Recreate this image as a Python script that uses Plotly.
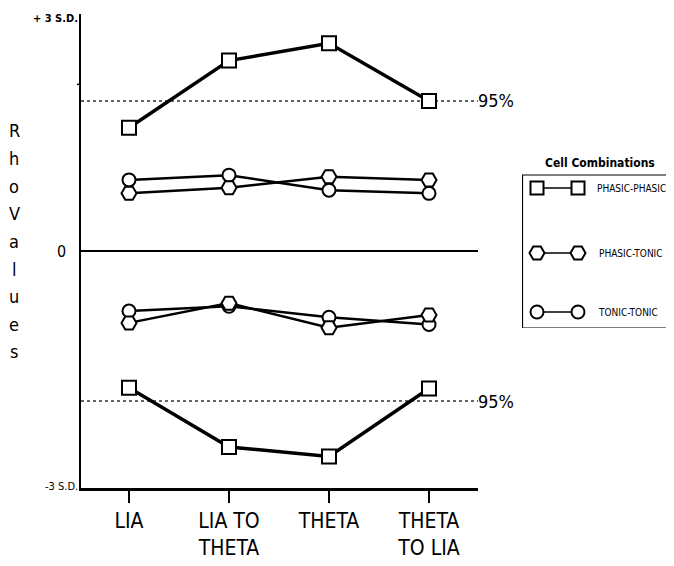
import plotly.graph_objects as go

# ---------------- data ----------------
categories = ["LIA", "LIA TO<br>THETA", "THETA", "THETA<br>TO LIA"]
x_idx = [0, 1, 2, 3]

phasic_phasic_pos = [1.56, 2.41, 2.63, 1.90]
phasic_phasic_neg = [-1.73, -2.48, -2.60, -1.74]
phasic_tonic_pos = [0.73, 0.80, 0.94, 0.90]
phasic_tonic_neg = [-0.91, -0.66, -0.97, -0.81]
tonic_tonic_pos = [0.90, 0.96, 0.77, 0.73]
tonic_tonic_neg = [-0.76, -0.70, -0.84, -0.93]

ci95 = 1.90
y_ticks = [3, 0, -3]
y_tick_labels = ["+ 3 S.D.", "0", "-3 S.D."]
legend_names = ["PHASIC-PHASIC", "PHASIC-TONIC", "TONIC-TONIC"]

FONT = "Liberation Sans Narrow, DejaVu Sans Condensed, Arial Narrow, sans-serif"

OFF = 8  # browser body margin
W, H = 674 - OFF, 566 - OFF
ML, MR, MT, MB = 81 - OFF, 0, 14 - OFF, 566 - 488
plot_w = 397
pw = W - ML - MR
ph = H - MT - MB

def px_x(page_x):
    return (page_x - OFF - ML) / pw

def px_y(page_y):
    return (H - MB - (page_y - OFF)) / ph

fig = go.Figure()

def add_series(y, symbol, size, lw):
    fig.add_trace(go.Scatter(
        x=x_idx, y=y, mode="lines+markers",
        line=dict(color="black", width=lw),
        marker=dict(symbol=symbol, size=size, color="white",
                    line=dict(color="black", width=2)),
        showlegend=False, cliponaxis=False,
    ))

add_series(tonic_tonic_pos, "circle", 13, 2.5)
add_series(phasic_tonic_pos, "hexagon2", 15, 2.5)
add_series(tonic_tonic_neg, "circle", 13, 2.5)
add_series(phasic_tonic_neg, "hexagon2", 15, 2.5)
add_series(phasic_phasic_pos, "square", 14, 3.5)
add_series(phasic_phasic_neg, "square", 14, 3.5)

# legend samples on a small helper axis (page-pixel coordinates)
leg_x0, leg_x1 = 522, 674
leg_top, leg_bot = 175, 328
leg_rows = [188, 253, 312]
leg_syms = ["square", "hexagon2", "circle"]
leg_sizes = [13, 15, 13]
for yy, sym, sz in zip(leg_rows, leg_syms, leg_sizes):
    fig.add_trace(go.Scatter(
        x=[537, 578], y=[yy, yy], mode="lines+markers", xaxis="x2", yaxis="y2",
        line=dict(color="black", width=1.5),
        marker=dict(symbol=sym, size=sz, color="white", line=dict(color="black", width=2)),
        showlegend=False, cliponaxis=False, hoverinfo="skip",
    ))

shapes = []
for v in (ci95, -ci95):
    shapes.append(dict(type="line", xref="x domain", yref="y", x0=0, x1=1, y0=v, y1=v,
                       line=dict(color="#333", width=1.5, dash="dot"), layer="below"))
shapes.append(dict(type="line", xref="paper", yref="y", x0=-4 / pw, x1=0, y0=2.11, y1=2.11,
                   line=dict(color="black", width=1.5)))
shapes.append(dict(type="rect", xref="x2", yref="y2", x0=leg_x0 + 0.5, x1=leg_x1 + 5,
                   y0=leg_top, y1=leg_bot, line=dict(color="black", width=1.2)))

annotations = []
annotations.append(dict(text="<b>" + y_tick_labels[0] + "</b>", xref="paper", yref="y", x=0, y=y_ticks[0],
                        xanchor="right", yanchor="middle", xshift=-1, yshift=-4, showarrow=False,
                        font=dict(family=FONT, size=11, color="black")))
annotations.append(dict(text=y_tick_labels[1], xref="paper", yref="y", x=0, y=y_ticks[1],
                        xanchor="right", yanchor="middle", xshift=-13, showarrow=False,
                        font=dict(family=FONT, size=16, color="black")))
annotations.append(dict(text=y_tick_labels[2], xref="paper", yref="y", x=0, y=y_ticks[2],
                        xanchor="right", yanchor="middle", xshift=-1, yshift=2, showarrow=False,
                        font=dict(family=FONT, size=11, color="black")))
for v in (ci95, -ci95):
    annotations.append(dict(text="95%", xref="x domain", yref="y", x=1, y=v,
                            xanchor="left", yanchor="middle", xshift=-2, showarrow=False,
                            font=dict(family=FONT, size=18, color="black")))
letters = [c for c in "Rho Values" if c != " "]
y0_px, step = 131, 27.6
for i, c in enumerate(letters):
    annotations.append(dict(text=c, xref="paper", yref="paper",
                            x=px_x(14), y=px_y(y0_px + i * step),
                            xanchor="center", yanchor="middle", showarrow=False,
                            font=dict(family=FONT, size=18, color="black")))
annotations.append(dict(text="<b>Cell Combinations</b>", xref="x2", yref="y2", x=600, y=163,
                        xanchor="center", yanchor="middle", showarrow=False,
                        font=dict(family=FONT, size=12, color="black")))
for yy, name, xx in zip(leg_rows, legend_names, [595, 597, 596]):
    annotations.append(dict(text=name, xref="x2", yref="y2", x=xx, y=yy,
                            xanchor="left", yanchor="middle", showarrow=False,
                            font=dict(family=FONT, size=10, color="black")))

fig.update_layout(
    width=W, height=H,
    margin=dict(l=ML, r=MR, t=MT, b=MB, pad=0),
    paper_bgcolor="white", plot_bgcolor="white",
    showlegend=False,
    xaxis=dict(domain=[0, plot_w / pw], range=[-0.48, 3.49], tickvals=x_idx, ticktext=categories,
               showgrid=False, zeroline=False, showline=True, linecolor="black", linewidth=2.5,
               ticks="outside", ticklen=12, tickwidth=2, tickcolor="black",
               tickfont=dict(family=FONT, size=21, color="black"), fixedrange=True),
    yaxis=dict(range=[-3, 3], showgrid=False, zeroline=True, zerolinecolor="black", zerolinewidth=2,
               showline=True, linecolor="black", linewidth=2, showticklabels=False, ticks="",
               fixedrange=True),
    xaxis2=dict(domain=[px_x(leg_x0), 1], range=[leg_x0, leg_x1], visible=False,
                anchor="y2", fixedrange=True),
    yaxis2=dict(domain=[px_y(leg_bot), min(1, px_y(155))],
                range=[leg_bot, 155], visible=False, anchor="x2", fixedrange=True),
    shapes=shapes, annotations=annotations,
)

fig.write_html("out.html")
